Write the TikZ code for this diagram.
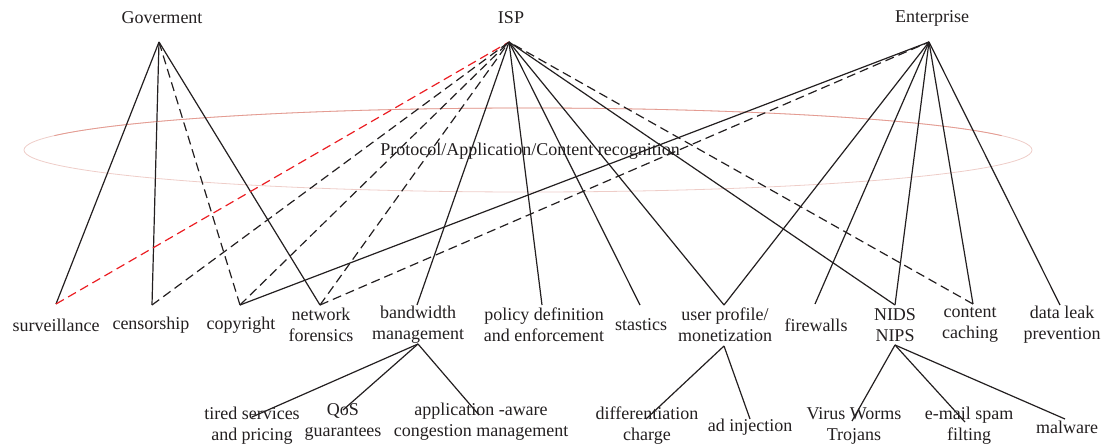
\documentclass[tikz,border=0pt]{standalone}
\usepackage{fontspec}
\setmainfont{Liberation Serif}
\begin{document}
\definecolor{ink}{RGB}{35,31,32}
\definecolor{ringlight}{RGB}{238,205,200}
\definecolor{ringcol}{RGB}{228,155,145}
\definecolor{redline}{RGB}{235,30,35}
\begin{tikzpicture}[x=1pt,y=-1pt,
  lbl/.style={font=\fontsize{18}{21}\selectfont, text=ink, align=center, inner sep=0pt},
  link/.style={draw=ink, line width=1.2pt},
  dlink/.style={link, dash pattern=on 9pt off 5pt},
  rlink/.style={draw=redline, line width=1.2pt, dash pattern=on 9pt off 5pt},
  sub/.style={draw=ink, line width=1.2pt}]
\useasboundingbox (0,0) rectangle (1103,447);

% recognition layer: faint upper rim, stronger lower rim
\draw[ringlight, line width=0.8pt] (528,150) ellipse [x radius=504, y radius=42];
\draw[ringcol, line width=0.8pt] (528,150) ++(200:504 and 42) arc [start angle=200, end angle=340, x radius=504, y radius=42];
\node[lbl] (layer) at (530,151) {Protocol/Application/Content recognition};

% actors
\node[lbl] (gov) at (162,18) {Goverment};
\node[lbl] (isp) at (511,18) {ISP};
\node[lbl] (ent) at (932,18) {Enterprise};
\coordinate (govA) at (159,42);
\coordinate (ispA) at (509,42);
\coordinate (entA) at (929,42);

% functions
\node[lbl] (surv) at (56,325) {surveillance};
\node[lbl] (cens) at (151,325) {censorship};
\node[lbl] (copy) at (241,325) {copyright};
\node[lbl] (netf) at (321,325) {network\\forensics};
\node[lbl] (bw) at (418,325) {bandwidth\\management};
\node[lbl] (pol) at (544,325) {policy definition\\and enforcement};
\node[lbl] (stat) at (641,325) {stastics};
\node[lbl] (user) at (725,325) {user profile/\\monetization};
\node[lbl] (fw) at (816,325) {firewalls};
\node[lbl] (nids) at (895,325) {NIDS\\NIPS};
\node[lbl] (cc) at (970,325) {content\\caching};
\node[lbl] (dlp) at (1062,325) {data leak\\prevention};

\coordinate (survT) at (56,304);
\coordinate (censT) at (152,305);
\coordinate (copyT) at (240,305);
\coordinate (netfT) at (320,305);
\coordinate (bwT) at (417,305);
\coordinate (polT) at (542,305);
\coordinate (statT) at (640,305);
\coordinate (userT) at (724,305);
\coordinate (fwT) at (815,304);
\coordinate (nidsT) at (895,305);
\coordinate (ccT) at (973,304);
\coordinate (dlpT) at (1060,305);

\coordinate (bwB) at (418,344);
\coordinate (userB) at (724,346);
\coordinate (nidsB) at (895,345);

% sub-functions
\node[lbl] (tier) at (252,426) {tired services\\and pricing};
\node[lbl] (qos) at (343,422) {QoS\\guarantees};
\node[lbl] (aacm) at (481,422) {application -aware\\congestion management};
\node[lbl] (diff) at (647,426) {differentiation\\charge};
\node[lbl] (adinj) at (750,427) {ad injection};
\node[lbl] (vwt) at (854,426) {Virus Worms\\Trojans};
\node[lbl] (spam) at (969,426) {e-mail spam\\filting};
\node[lbl] (mal) at (1067,427) {malware};

\coordinate (tierT) at (252,417);
\coordinate (qosT) at (343,410);
\coordinate (aacmT) at (479,415);
\coordinate (diffT) at (646,419);
\coordinate (adinjT) at (750,419);
\coordinate (vwtT) at (852,421);
\coordinate (spamT) at (965,422);
\coordinate (malT) at (1065,419);

% government
\draw[link] (survT) -- (govA);
\draw[link] (censT) -- (govA);
\draw[dlink] (copyT) -- (govA);
\draw[link] (netfT) -- (govA);

% ISP
\draw[rlink] (survT) -- (ispA);
\draw[dlink] (censT) -- (ispA);
\draw[dlink] (copyT) -- (ispA);
\draw[dlink] (netfT) -- (ispA);
\draw[link] (bwT) -- (ispA);
\draw[link] (polT) -- (ispA);
\draw[link] (statT) -- (ispA);
\draw[link] (userT) -- (ispA);
\draw[link] (nidsT) -- (ispA);
\draw[dlink] (ccT) -- (ispA);

% enterprise
\draw[link] (copyT) -- (entA);
\draw[dlink] (netfT) -- (entA);
\draw[link] (userT) -- (entA);
\draw[link] (fwT) -- (entA);
\draw[link] (nidsT) -- (entA);
\draw[link] (ccT) -- (entA);
\draw[link] (dlpT) -- (entA);

% refinements
\draw[sub] (bwB) -- (tierT);
\draw[sub] (bwB) -- (qosT);
\draw[sub] (bwB) -- (aacmT);
\draw[sub] (userB) -- (diffT);
\draw[sub] (userB) -- (adinjT);
\draw[sub] (nidsB) -- (vwtT);
\draw[sub] (nidsB) -- (spamT);
\draw[sub] (nidsB) -- (malT);
\end{tikzpicture}
\end{document}
